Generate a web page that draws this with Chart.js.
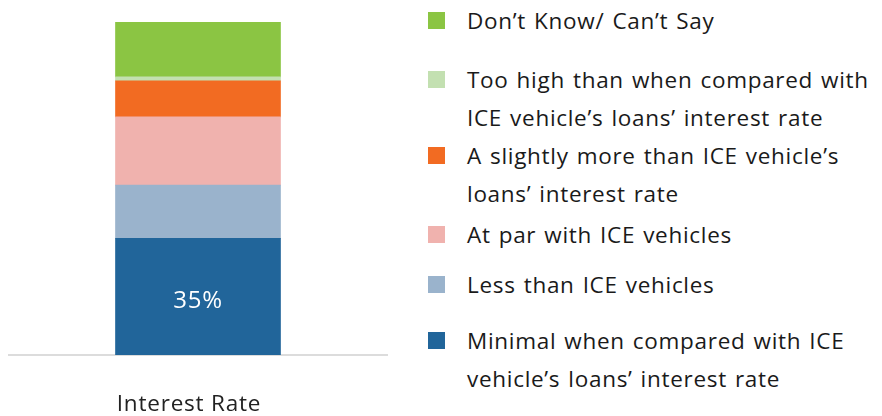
<!DOCTYPE html>
<html>
<head>
<meta charset="utf-8">
<script src="https://cdn.jsdelivr.net/npm/chart.js@4.4.1/dist/chart.umd.min.js"></script>
<style>
  html, body { margin: 0; padding: 0; width: 882px; height: 416px; overflow: hidden; background: #fff; }
  #wrap { position: absolute; left: 0; top: 0; width: 396px; height: 454px; }
  #legend { position: absolute; left: 428px; top: 0; width: 454px; height: 416px;
    font-family: 'Open Sans', sans-serif; font-size: 22.5px; color: #1a1a1a;
    letter-spacing: 0.7px; word-spacing: 1.5px; }
  .item { position: absolute; left: 0; line-height: 38px; white-space: nowrap; }
  .item .box { position: absolute; left: 0; top: 10px; width: 17px; height: 17px; }
  .item .txt { position: absolute; left: 39px; top: 0; }
</style>
</head>
<body>
<div id="wrap"><canvas id="chart"></canvas></div>
<div id="legend"></div>
<script>
// ---- data ----
const categories = ['Interest Rate'];
const seriesLabels = [
  'Minimal when compared with ICE\nvehicle\u2019s loans\u2019 interest rate',
  'Less than ICE vehicles',
  'At par with ICE vehicles',
  'A slightly more than ICE vehicle\u2019s\nloans\u2019 interest rate',
  'Too high than when compared with\nICE vehicle\u2019s loans\u2019 interest rate',
  'Don\u2019t Know/ Can\u2019t Say'
];
const seriesValues = [35, 16, 20.5, 10.8, 1.2, 16.5];
const seriesColors = ['#21659a', '#9ab3cc', '#f0b2ae', '#f26b22', '#c3e0b1', '#8bc543'];
const shownLabels = ['35%', '', '', '', '', ''];

// legend rows, top to bottom (first line centre y)
const legendCenters = [21, 80, 156, 235, 285, 341];

const datasets = seriesLabels.map((lab, i) => ({
  label: lab,
  data: [seriesValues[i]],
  backgroundColor: seriesColors[i],
  borderWidth: 0,
  barThickness: 165
}));

// a bit of tracking so the canvas text is as wide as the original
const tracking = {
  id: 'tracking',
  beforeDraw(chart) { chart.ctx.letterSpacing = '0.8px'; }
};

// white value label inside a segment
const segmentLabels = {
  id: 'segmentLabels',
  afterDatasetsDraw(chart) {
    const ctx = chart.ctx;
    ctx.save();
    ctx.fillStyle = '#ffffff';
    ctx.font = '24px "Open Sans", sans-serif';
    ctx.textAlign = 'center';
    ctx.textBaseline = 'middle';
    chart.data.datasets.forEach((ds, i) => {
      if (!shownLabels[i]) return;
      const bar = chart.getDatasetMeta(i).data[0];
      ctx.fillText(shownLabels[i], bar.x, (bar.y + bar.base) / 2 + 4);
    });
    ctx.restore();
  }
};

new Chart(document.getElementById('chart'), {
  type: 'bar',
  data: { labels: categories, datasets: datasets },
  options: {
    responsive: true,
    maintainAspectRatio: false,
    animation: false,
    layout: { padding: { top: 22, left: 9, right: 9, bottom: 0 } },
    plugins: { legend: { display: false }, tooltip: { enabled: false } },
    scales: {
      x: {
        stacked: true,
        grid: { display: false, drawTicks: false, tickLength: 0 },
        border: { display: true, color: '#dcdcdc', width: 2 },
        ticks: { color: '#222222', padding: 36, labelOffset: -9,
                 font: { family: 'Open Sans', size: 22.5 } }
      },
      y: { stacked: true, display: false, min: 0, max: 100 }
    }
  },
  plugins: [tracking, segmentLabels]
});

// HTML legend, top segment first
const legend = document.getElementById('legend');
for (let k = 0; k < seriesLabels.length; k++) {
  const i = seriesLabels.length - 1 - k;
  const item = document.createElement('div');
  item.className = 'item';
  item.style.top = (legendCenters[k] - 19) + 'px';
  const box = document.createElement('div');
  box.className = 'box';
  box.style.background = seriesColors[i];
  const txt = document.createElement('div');
  txt.className = 'txt';
  txt.innerHTML = seriesLabels[i].split('\n').join('<br>');
  item.appendChild(box);
  item.appendChild(txt);
  legend.appendChild(item);
}
</script>
</body>
</html>
